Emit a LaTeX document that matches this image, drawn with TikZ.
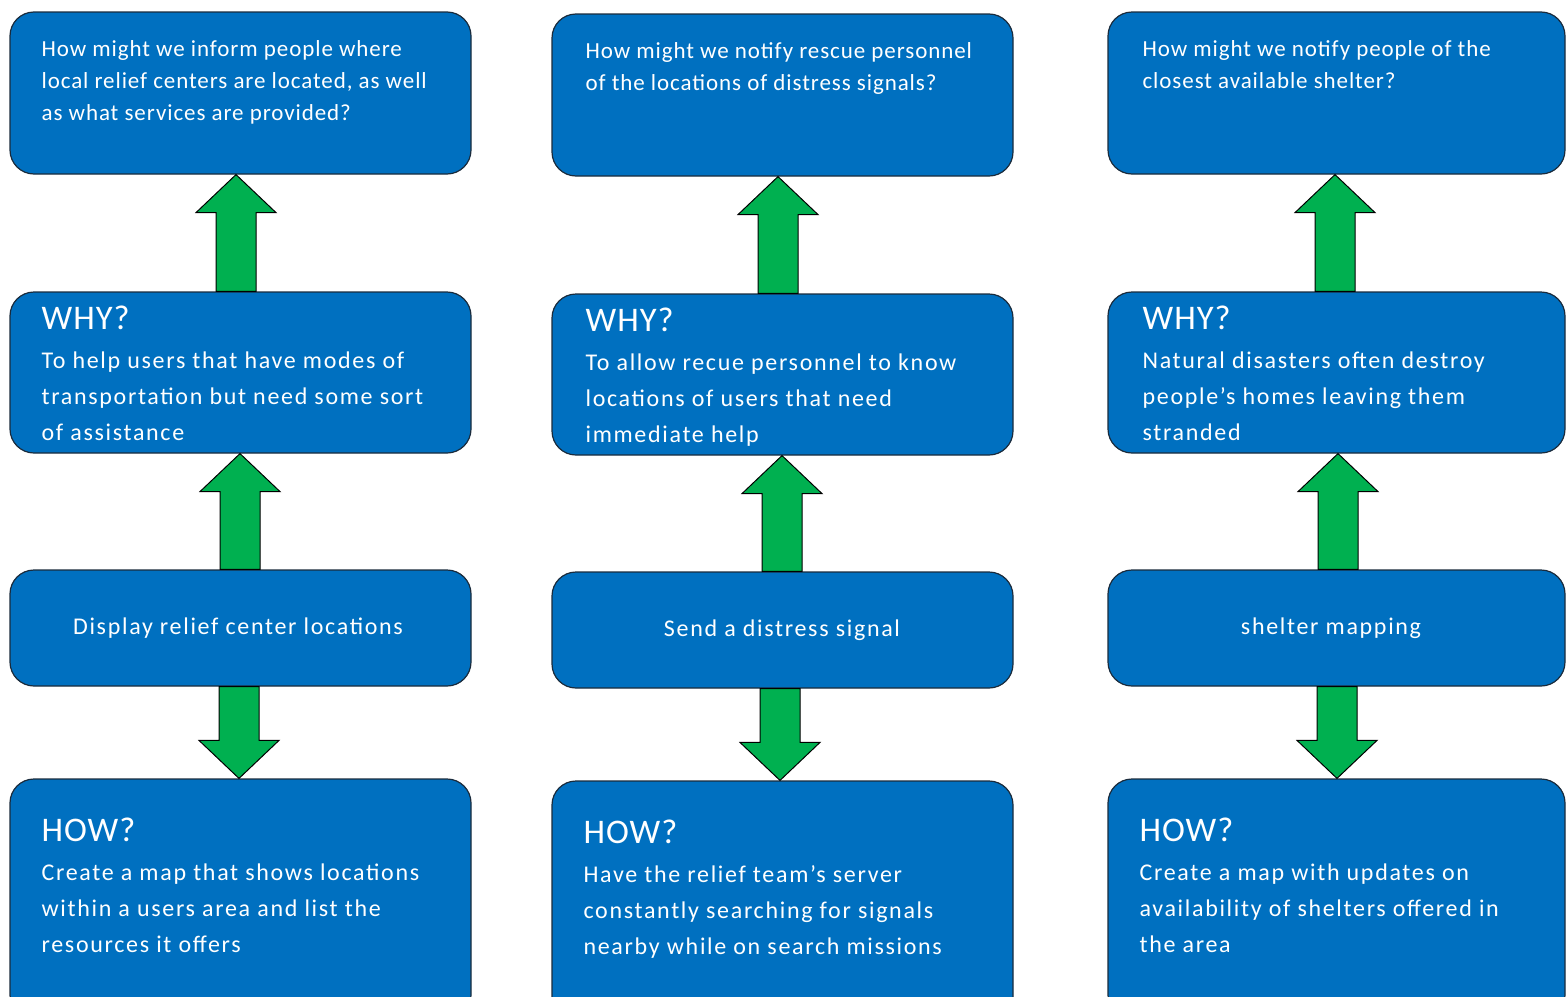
\documentclass[tikz,border=0pt]{standalone}
\usepackage{fontspec}
\setmainfont{Carlito}
\newfontfamily\qfont[LetterSpace=4]{Carlito}
\newfontfamily\bfont[LetterSpace=7]{Carlito}
\newfontfamily\hfont[LetterSpace=3]{Carlito}
\usetikzlibrary{calc}
\definecolor{boxblue}{HTML}{0070C0}
\definecolor{boxedge}{HTML}{1A2B3C}
\definecolor{agreen}{HTML}{00B050}
\tikzset{
  box/.style={draw=boxedge, line width=1.2pt, fill=boxblue, rounded corners=24, minimum width=461, minimum height=#1, inner sep=0pt},
  qtext/.style={anchor=north west, text=white, align=left, font=\qfont\fontsize{23}{32}\selectfont, inner sep=0pt},
  htext/.style={anchor=north west, text=white, align=left, font=\bfont\fontsize{24}{36}\selectfont, inner sep=0pt},
  head/.style={anchor=north west, text=white, font=\hfont\fontsize{34.5}{36}\selectfont, inner sep=0pt},
  ctext/.style={text=white, font=\bfont\fontsize{24}{26}\selectfont, inner sep=0pt},
  garrow/.style={draw=black, line width=1pt, fill=agreen, line join=miter},
}
% up arrow: from node #1 (lower) north to node #2 (upper) south, at x=#3
\newcommand\garrowup[3]{%
  \draw[garrow] let \p1=(#1.north), \p2=(#2.south) in
    (#3-20,\y1) -- (#3-20,\y2-38) -- (#3-40,\y2-38) -- (#3,\y2) -- (#3+40,\y2-38) -- (#3+20,\y2-38) -- (#3+20,\y1) -- cycle;}
\newcommand\garrowdown[3]{%
  \draw[garrow] let \p1=(#1.south), \p2=(#2.north) in
    (#3-20,\y1) -- (#3-20,\y2+38) -- (#3-40,\y2+38) -- (#3,\y2) -- (#3+40,\y2+38) -- (#3+20,\y2+38) -- (#3+20,\y1) -- cycle;}
\begin{document}
\begin{tikzpicture}[x=1pt,y=-1pt]
\useasboundingbox (0,0) rectangle (1566,996);
\clip (0,0) rectangle (1566,996);
% column 1
\node[box=162] (q1) at (240.5,93) {};
\node[box=161] (w1) at (240.5,372.5) {};
\node[box=116] (f1) at (240.5,628) {};
\node[box=240] (h1) at (240.5,899) {};
% column 2
\node[box=162] (q2) at (782.5,95) {};
\node[box=161] (w2) at (782.5,374.5) {};
\node[box=116] (f2) at (782.5,630) {};
\node[box=240] (h2) at (782.5,901) {};
% column 3
\node[box=162, minimum width=457] (q3) at (1336.5,93) {};
\node[box=161, minimum width=457] (w3) at (1336.5,372.5) {};
\node[box=116, minimum width=457] (f3) at (1336.5,628) {};
\node[box=240, minimum width=457] (h3) at (1336.5,899) {};

% arrows
\garrowup{w1}{q1}{236}
\garrowup{f1}{w1}{240}
\garrowdown{f1}{h1}{239}
\garrowup{w2}{q2}{778}
\garrowup{f2}{w2}{782}
\garrowdown{f2}{h2}{780}
\garrowup{w3}{q3}{1335}
\garrowup{f3}{w3}{1338}
\garrowdown{f3}{h3}{1337}

% texts column 1
\node[qtext] (q1t) at ($(q1.north west)+(32,28.5)$) {How might we inform people where\\local relief centers are located, as well\\as what services are provided?};
\node[head] (w1h) at ($(w1.north west)+(32,14.5)$) {WHY?};
\node[htext] (w1t) at ($(w1.north west)+(32,60.5)$) {To help users that have modes of\\transportation but need some sort\\of assistance};
\node[ctext] (f1t) at (238,628) {Display relief center locations};
\node[head] (h1h) at ($(h1.north west)+(32,39.5)$) {HOW?};
\node[htext] (h1t) at ($(h1.north west)+(32,85)$) {Create a map that shows locations\\within a users area and list the\\resources it offers};
% texts column 2
\node[qtext] (q2t) at ($(q2.north west)+(34,28.5)$) {How might we notify rescue personnel\\of the locations of distress signals?};
\node[head] (w2h) at ($(w2.north west)+(34,14.5)$) {WHY?};
\node[htext] (w2t) at ($(w2.north west)+(34,60.5)$) {To allow recue personnel to know\\locations of users that need\\immediate help};
\node[ctext] (f2t) at (782,630) {Send a distress signal};
\node[head] (h2h) at ($(h2.north west)+(32,39.5)$) {HOW?};
\node[htext] (h2t) at ($(h2.north west)+(32,85)$) {Have the relief team’s server\\constantly searching for signals\\nearby while on search missions};
% texts column 3
\node[qtext] (q3t) at ($(q3.north west)+(35,28.5)$) {How might we notify people of the\\closest available shelter?};
\node[head] (w3h) at ($(w3.north west)+(35,14.5)$) {WHY?};
\node[htext] (w3t) at ($(w3.north west)+(35,60.5)$) {Natural disasters often destroy\\people’s homes leaving them\\stranded};
\node[ctext] (f3t) at (1331,628) {shelter mapping};
\node[head] (h3h) at ($(h3.north west)+(32,39.5)$) {HOW?};
\node[htext] (h3t) at ($(h3.north west)+(32,85)$) {Create a map with updates on\\availability of shelters offered in\\the area};
\end{tikzpicture}
\end{document}
